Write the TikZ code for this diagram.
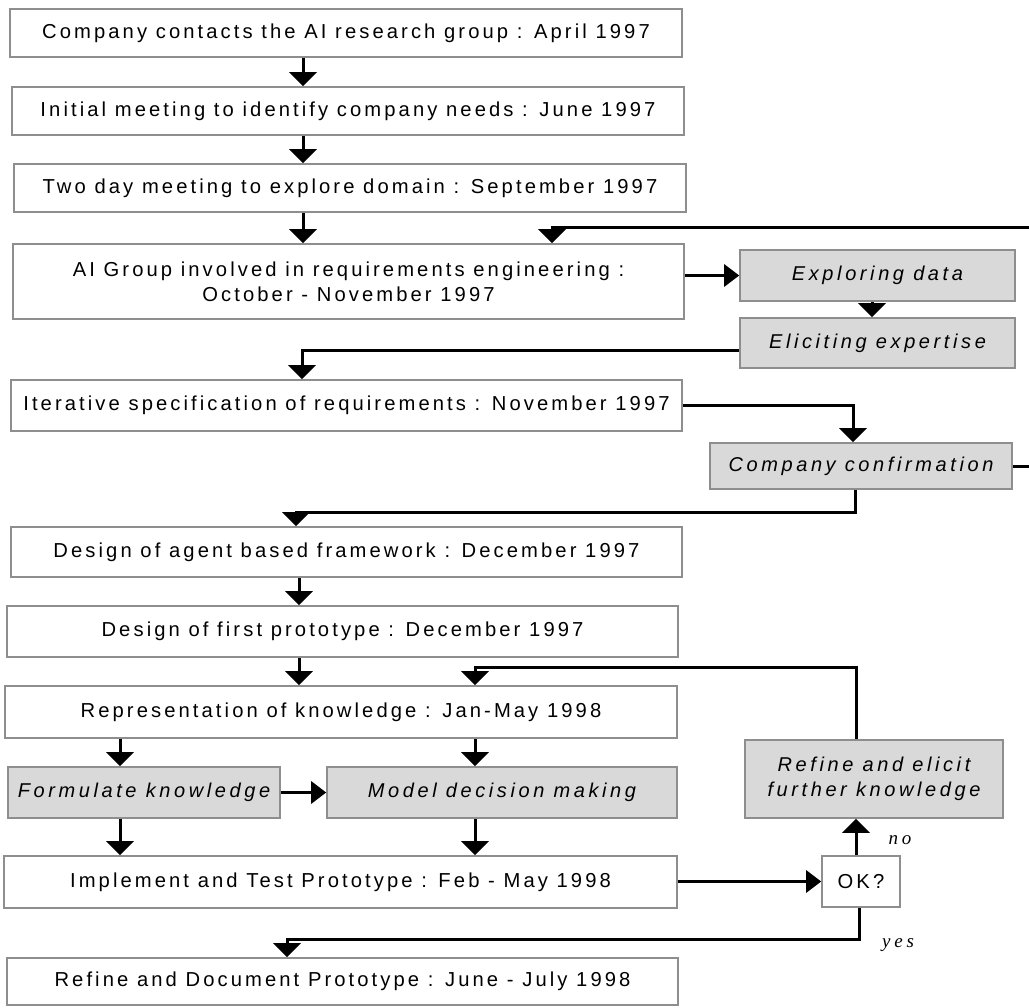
\documentclass[tikz,border=0pt]{standalone}
\usepackage{fontspec}
\usetikzlibrary{arrows.meta}
\newfontfamily\boxfont{Liberation Sans}[LetterSpace=15.3]
\newfontfamily\stepfont{Liberation Sans}[LetterSpace=18]
\newfontfamily\notefont{Liberation Serif}[LetterSpace=20]
\definecolor{edgegray}{HTML}{8E8E8E}
\definecolor{shade}{HTML}{D9D9D9}
\tikzset{
  box/.style={draw=edgegray, line width=1.6pt, fill=white, inner sep=0pt,
    align=center, font=\boxfont\fontsize{20.2}{25}\selectfont},
  subbox/.style={box, fill=shade, font=\stepfont\itshape\fontsize{20}{25}\selectfont},
  note/.style={font=\notefont\itshape\fontsize{19}{22}\selectfont, inner sep=0pt},
  conn/.style={line width=3pt, draw=black},
  arrv/.style={conn, -{Triangle[length=14pt,width=27pt]}},
  arrh/.style={conn, -{Triangle[length=15pt,width=22pt]}},
}
\begin{document}
\begin{tikzpicture}[x=1pt,y=-1pt]
\useasboundingbox (0,0) rectangle (1029,1008);
\clip (0,0) rectangle (1029,1008);

% main sequence of project stages
\node[box, minimum width=672pt, minimum height=48pt] (contact) at (346,33)
  {Company contacts the AI research group : April 1997};
\node[box, minimum width=672pt, minimum height=48pt] (initial) at (348,111)
  {Initial meeting to identify company needs : June 1997};
\node[box, minimum width=672pt, minimum height=48pt] (twoday) at (350,188)
  {Two day meeting to explore domain : September 1997};
\node[box, minimum width=671pt, minimum height=75pt] (reqeng) at (348.5,281.5)
  {AI Group involved in requirements engineering :\\October - November 1997};
\node[box, minimum width=671pt, minimum height=51pt] (iter) at (346.5,405.5)
  {Iterative specification of requirements : November 1997};
\node[box, minimum width=671pt, minimum height=50pt] (agent) at (346.5,552)
  {Design of agent based framework : December 1997};
\node[box, minimum width=671pt, minimum height=51pt] (firstproto) at (342.5,631.5)
  {Design of first prototype : December 1997};
\node[box, minimum width=672pt, minimum height=52pt] (repr) at (341,712)
  {Representation of knowledge : Jan-May 1998};
\node[box, minimum width=673pt, minimum height=52pt] (impl) at (340.5,882)
  {Implement and Test Prototype : Feb - May 1998};
\node[box, minimum width=671pt, minimum height=47pt] (refdoc) at (342.5,981.5)
  {Refine and Document Prototype : June - July 1998};
\node[box, minimum width=78pt, minimum height=51pt] (ok) at (861,881.5) {OK?};

% side activities
\node[subbox, minimum width=275pt, minimum height=51pt] (explore) at (877.5,275.5) {Exploring data};
\node[subbox, minimum width=275pt, minimum height=50pt] (elicit) at (877.5,343) {Eliciting expertise};
\node[subbox, minimum width=302pt, minimum height=46pt] (confirm) at (861,466) {Company confirmation};
\node[subbox, minimum width=272pt, minimum height=51pt] (formulate) at (144,792.5) {Formulate knowledge};
\node[subbox, minimum width=350pt, minimum height=51pt] (model) at (502,792.5) {Model decision making};
\node[subbox, minimum width=258pt, minimum height=78pt] (refine) at (874,779)
  {Refine and elicit\\further knowledge};

% decision labels
\node[note] (nolbl) at (900,840) {no};
\node[note] (yeslbl) at (898,945) {yes};

% connector columns and bend points
\coordinate (colA) at (303,0);
\coordinate (colB) at (299,0);
\coordinate (colL) at (120,0);
\coordinate (colM) at (475,0);
\coordinate (colE) at (872,0);
\coordinate (colC) at (853,0);
\coordinate (colR) at (856,0);
\coordinate (colD) at (287,0);
\coordinate (colI) at (302,0);
\coordinate (colG) at (296,0);
\coordinate (rowE) at (0,351);
\coordinate (loopOut) at (1045,228);
\coordinate (loopIn) at (552,228);
\coordinate (bendConf) at (855,512);
\coordinate (bendRef) at (475,667);
\coordinate (bendOk) at (859,939);

% connectors
\draw[arrv] (contact.south -| colA) -- (initial.north -| colA);
\draw[arrv] (initial.south -| colA) -- (twoday.north -| colA);
\draw[arrv] (twoday.south -| colA) -- (reqeng.north -| colA);
\draw[arrh] (reqeng.east |- explore.west) -- (explore.west);
\draw[arrv] (explore.south -| colE) -- (elicit.north -| colE);
\draw[arrv] (elicit.west |- rowE) -| (iter.north -| colI);
\draw[arrv] (iter.east) -| (confirm.north -| colC);
\draw[arrv] (confirm.east) -| (loopOut) -- (loopIn) -- (reqeng.north -| loopIn);
\draw[arrv] (confirm.south -| bendConf) -- (bendConf) -| (agent.north -| colG);
\draw[arrv] (agent.south -| colB) -- (firstproto.north -| colB);
\draw[arrv] (firstproto.south -| colB) -- (repr.north -| colB);
\draw[arrv] (repr.south -| colL) -- (formulate.north -| colL);
\draw[arrv] (repr.south -| colM) -- (model.north -| colM);
\draw[arrh] (formulate.east) -- (model.west);
\draw[arrv] (formulate.south -| colL) -- (impl.north -| colL);
\draw[arrv] (model.south -| colM) -- (impl.north -| colM);
\draw[arrv] (refine.north -| colR) |- (bendRef) -- (repr.north -| bendRef);
\draw[arrh] (impl.east |- ok.west) -- (ok.west);
\draw[arrv] (ok.north -| colR) -- (refine.south -| colR);
\draw[arrv] (ok.south -| bendOk) -- (bendOk) -| (refdoc.north -| colD);
\end{tikzpicture}
\end{document}
